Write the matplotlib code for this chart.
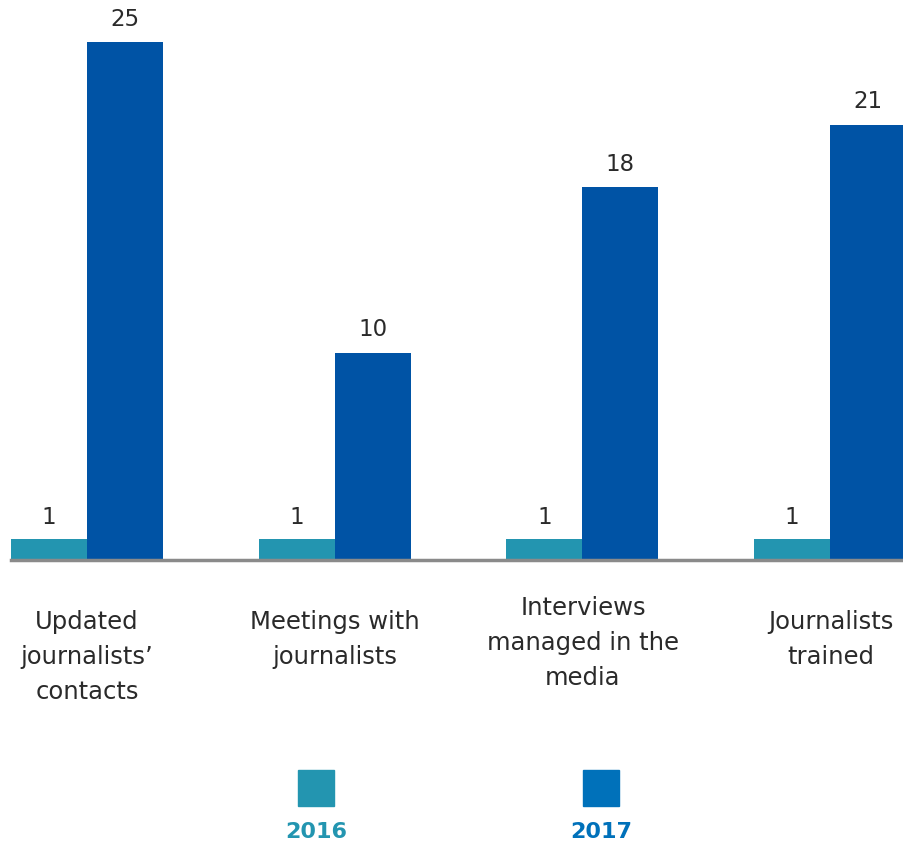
import matplotlib.pyplot as plt
from matplotlib.patches import Rectangle

categories = ["Updated\njournalists’\ncontacts", "Meetings with\njournalists",
              "Interviews\nmanaged in the\nmedia", "Journalists\ntrained"]
values_2016 = [1, 1, 1, 1]
values_2017 = [25, 10, 18, 21]
years = ["2016", "2017"]

c2016 = "#2395b0"
c2017 = "#0053a5"
c2017_legend = "#0071ba"

plt.rcParams["font.family"] = ["DejaVu Sans"]

W, H = 904, 845
fig = plt.figure(figsize=(W / 100, H / 100), dpi=100)
# axes spans from x=11px to right edge, baseline at y=561px
ax = fig.add_axes([11 / W, (H - 561) / H, 1 - 11 / W, 561 / H])

width = 76 / 248
x = list(range(len(categories)))
ax.bar([i - width / 2 for i in x], values_2016, width, color=c2016, align="center")
ax.bar([i + width / 2 for i in x], values_2017, width, color=c2017, align="center")

ax.set_xlim(-width, 3 + 74 / 248)
ax.set_ylim(0, 561 / 20.72)
ax.axis("off")
ax.axhline(0, color="#8a8a8a", lw=2.5, clip_on=False)

for i in x:
    ax.text(i - width / 2, values_2016[i] + 0.55, str(values_2016[i]),
            ha="center", va="bottom", fontsize=16.5, color="#2a2a2a")
    ax.text(i + width / 2, values_2017[i] + 0.6, str(values_2017[i]),
            ha="center", va="bottom", fontsize=16.5, color="#2a2a2a")

# category labels (figure pixel coords)
label_top = [610, 610, 596, 610]
for i, lab in enumerate(categories):
    cx = 87 + 248 * i
    fig.text(cx / W, 1 - label_top[i] / H, lab, ha="center", va="top",
             fontsize=17.5, color="#2a2a2a", linespacing=1.58)

# legend
for name, col, tcol, cx in [(years[0], c2016, c2016, 316), (years[1], c2017_legend, c2017_legend, 601)]:
    fig.patches.append(Rectangle(((cx - 18) / W, 1 - 807 / H), 36 / W, 36 / H,
                                 transform=fig.transFigure, color=col))
    fig.text(cx / W, 1 - 832 / H, name, ha="center", va="center",
             fontsize=16, fontweight="bold", color=tcol)

fig.savefig("out.png", dpi=100)
